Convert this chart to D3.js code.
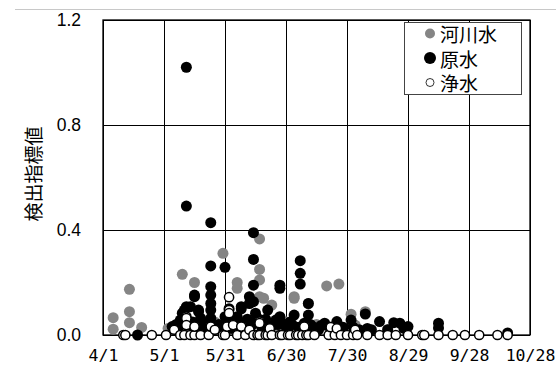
<!DOCTYPE html>
<html>
<head>
<meta charset="utf-8">
<script src="https://cdnjs.cloudflare.com/ajax/libs/d3/7.8.5/d3.min.js"></script>
<style>
  body { margin: 0; background: #fff; }
</style>
</head>
<body>
<script>
// date tick labels (every 30 days)
var tickLabels = ['4/1', '5/1', '5/31', '6/30', '7/30', '8/29', '9/28', '10/28'];
var yTicks = [0, 0.4, 0.8, 1.2];

// series names for the legend
var seriesNames = ['河川水', '原水', '浄水'];

// 河川水 (river water) : [date, value]
var river = [
  ['4/6', 0.066], ['4/6', 0.022], ['4/14', 0.174], ['4/14', 0.089], ['4/14', 0.047],
  ['4/20', 0.029], ['5/3', 0.025], ['5/10', 0.231], ['5/11', 0.03], ['5/16', 0.2],
  ['5/21', 0.04], ['5/26', 0.05], ['5/30', 0.311], ['6/3', 0.06], ['6/6', 0.2],
  ['6/6', 0.178], ['6/10', 0.05], ['6/17', 0.366], ['6/17', 0.25], ['6/17', 0.21],
  ['6/17', 0.146], ['6/19', 0.14], ['6/23', 0.114], ['6/25', 0.03], ['6/30', 0.05],
  ['7/4', 0.146], ['7/4', 0.14], ['7/11', 0.12], ['7/15', 0.04], ['7/20', 0.187],
  ['7/22', 0.03], ['7/26', 0.194], ['8/1', 0.079], ['8/3', 0.038], ['8/8', 0.089],
  ['8/19', 0.02]
];

// 原水 (raw water)
var raw = [
  ['4/18', 0.0], ['5/5', 0.032], ['5/7', 0.04], ['5/8', 0.025], ['5/9', 0.057],
  ['5/10', 0.083], ['5/11', 0.095], ['5/11', 0.076], ['5/12', 1.02], ['5/12', 0.491],
  ['5/12', 0.108], ['5/13', 0.038], ['5/14', 0.108], ['5/15', 0.05], ['5/16', 0.146],
  ['5/16', 0.152], ['5/17', 0.03], ['5/18', 0.095], ['5/18', 0.089], ['5/19', 0.064],
  ['5/20', 0.045], ['5/21', 0.03], ['5/22', 0.02], ['5/24', 0.428], ['5/24', 0.263],
  ['5/24', 0.184], ['5/24', 0.152], ['5/24', 0.12], ['5/24', 0.095], ['5/24', 0.064],
  ['5/24', 0.04], ['5/24', 0.02], ['5/26', 0.035], ['5/28', 0.04], ['5/29', 0.025],
  ['5/31', 0.258], ['5/31', 0.07], ['6/1', 0.04], ['6/2', 0.1], ['6/3', 0.025],
  ['6/4', 0.05], ['6/5', 0.035], ['6/6', 0.07], ['6/7', 0.05], ['6/8', 0.108],
  ['6/8', 0.1], ['6/9', 0.03], ['6/10', 0.04], ['6/11', 0.06], ['6/12', 0.12],
  ['6/12', 0.146], ['6/13', 0.035], ['6/14', 0.39], ['6/14', 0.288], ['6/14', 0.19],
  ['6/14', 0.127], ['6/14', 0.05], ['6/15', 0.083], ['6/16', 0.064], ['6/18', 0.03],
  ['6/19', 0.04], ['6/20', 0.06], ['6/21', 0.095], ['6/23', 0.035], ['6/25', 0.057],
  ['6/26', 0.04], ['6/27', 0.19], ['6/27', 0.178], ['6/27', 0.07], ['6/28', 0.045],
  ['6/30', 0.03], ['7/1', 0.02], ['7/2', 0.05], ['7/3', 0.04], ['7/4', 0.076],
  ['7/6', 0.03], ['7/7', 0.283], ['7/7', 0.235], ['7/7', 0.194], ['7/9', 0.045],
  ['7/11', 0.076], ['7/11', 0.12], ['7/12', 0.04], ['7/13', 0.032], ['7/14', 0.025],
  ['7/16', 0.02], ['7/17', 0.035], ['7/19', 0.038], ['7/19', 0.045], ['7/22', 0.02],
  ['7/24', 0.02], ['7/25', 0.038], ['7/25', 0.051], ['7/28', 0.03], ['8/1', 0.057],
  ['8/2', 0.03], ['8/5', 0.02], ['8/8', 0.08], ['8/9', 0.025], ['8/11', 0.02],
  ['8/15', 0.051], ['8/19', 0.02], ['8/22', 0.047], ['8/25', 0.045], ['8/27', 0.025],
  ['8/29', 0.032], ['9/13', 0.045], ['9/13', 0.027], ['10/17', 0.008]
];

// 浄水 (treated water)
var treated = [
  ['4/11', 0], ['4/12', 0], ['4/25', 0], ['5/2', 0], ['5/6', 0.02], ['5/9', 0],
  ['5/11', 0], ['5/12', 0.07], ['5/12', 0.064], ['5/12', 0.038], ['5/14', 0],
  ['5/16', 0], ['5/16', 0.032], ['5/19', 0], ['5/23', 0], ['5/24', 0.032],
  ['5/26', 0.02], ['5/30', 0], ['5/31', 0], ['6/1', 0.032], ['6/2', 0.144],
  ['6/2', 0.095], ['6/2', 0.083], ['6/4', 0.038], ['6/6', 0], ['6/8', 0.032],
  ['6/10', 0], ['6/12', 0.02], ['6/14', 0], ['6/16', 0], ['6/17', 0],
  ['6/17', 0.051], ['6/17', 0.045], ['6/20', 0], ['6/21', 0], ['6/22', 0.025],
  ['6/23', 0], ['6/27', 0], ['6/28', 0], ['7/1', 0], ['7/2', 0], ['7/5', 0],
  ['7/6', 0], ['7/8', 0], ['7/9', 0.032], ['7/10', 0], ['7/11', 0], ['7/14', 0],
  ['7/21', 0], ['7/22', 0.03], ['7/24', 0], ['7/25', 0.025], ['7/27', 0],
  ['7/30', 0], ['8/2', 0], ['8/3', 0.02], ['8/4', 0], ['8/9', 0], ['8/15', 0],
  ['8/19', 0], ['8/23', 0], ['8/29', 0], ['9/5', 0], ['9/6', 0], ['9/13', 0],
  ['9/20', 0], ['9/26', 0], ['10/3', 0], ['10/12', 0], ['10/17', 0]
];

window.onload = function() {

  var width = 556, height = 367;
  var margin = { top: 20, right: 26, bottom: 32, left: 103 };

  var parse = function(s) { return d3.timeParse('%Y/%m/%d')('2021/' + s); };

  var svg = d3.select('body').append('svg')
    .attr('width', width)
    .attr('height', height)
    .style('font-family', 'Arial, "Liberation Sans", sans-serif');

  var x = d3.scaleTime()
    .domain([parse(tickLabels[0]), parse(tickLabels[tickLabels.length - 1])])
    .range([margin.left, width - margin.right]);

  var y = d3.scaleLinear()
    .domain([0, 1.2])
    .range([height - margin.bottom, margin.top]);

  // thin grey line at the very top (chart area border)
  svg.append('line')
    .attr('x1', 15).attr('x2', width)
    .attr('y1', 9.5).attr('y2', 9.5)
    .attr('stroke', '#c8c8c8');

  // grid lines
  var xGrid = d3.axisBottom(x)
    .tickValues(tickLabels.map(parse))
    .tickSize(-(y(0) - y(1.2)))
    .tickFormat('');
  svg.append('g')
    .attr('transform', 'translate(0,' + y(0) + ')')
    .call(xGrid)
    .call(function(g) { g.select('.domain').remove(); })
    .selectAll('line').attr('stroke', '#000');

  var yGrid = d3.axisLeft(y)
    .tickValues(yTicks)
    .tickSize(-(x.range()[1] - x.range()[0]))
    .tickFormat('');
  svg.append('g')
    .attr('transform', 'translate(' + margin.left + ',0)')
    .call(yGrid)
    .call(function(g) { g.select('.domain').remove(); })
    .selectAll('line').attr('stroke', '#000');

  // plot border
  svg.append('rect')
    .attr('x', x.range()[0]).attr('y', y(1.2))
    .attr('width', x.range()[1] - x.range()[0])
    .attr('height', y(0) - y(1.2))
    .attr('fill', 'none')
    .attr('stroke', '#000')
    .attr('stroke-width', 1.3);

  // tick labels
  var xAxis = d3.axisBottom(x)
    .tickValues(tickLabels.map(parse))
    .tickSize(0)
    .tickPadding(14)
    .tickFormat(d3.timeFormat('%-m/%-d'));
  svg.append('g')
    .attr('transform', 'translate(0,' + y(0) + ')')
    .call(xAxis)
    .call(function(g) { g.select('.domain').remove(); })
    .selectAll('text')
    .attr('fill', '#000')
    .style('font-family', '"DejaVu Sans Mono", monospace')
    .style('font-size', '16.5px');

  var yAxis = d3.axisLeft(y)
    .tickValues(yTicks)
    .tickSize(0)
    .tickPadding(22)
    .tickFormat(d3.format('.1f'));
  svg.append('g')
    .attr('transform', 'translate(' + margin.left + ',0)')
    .call(yAxis)
    .call(function(g) { g.select('.domain').remove(); })
    .selectAll('text')
    .attr('fill', '#000')
    .style('font-size', '17.5px');

  // y axis title
  svg.append('text')
    .attr('transform', 'translate(32,174) rotate(-90)')
    .attr('text-anchor', 'middle')
    .attr('dominant-baseline', 'central')
    .style('font-family', '"Noto Sans CJK JP", sans-serif')
    .style('font-size', '19px')
    .text('検出指標値');

  // points: river (grey), raw (black), treated (white) on top
  var plot = svg.append('g');

  plot.selectAll('.river').data(river).enter()
    .append('circle')
    .attr('class', 'river')
    .attr('cx', function(d) { return x(parse(d[0])); })
    .attr('cy', function(d) { return y(d[1]); })
    .attr('r', 5.5)
    .attr('fill', '#858585');

  plot.selectAll('.raw').data(raw).enter()
    .append('circle')
    .attr('class', 'raw')
    .attr('cx', function(d) { return x(parse(d[0])); })
    .attr('cy', function(d) { return y(d[1]); })
    .attr('r', 5.5)
    .attr('fill', '#000');

  plot.selectAll('.treated').data(treated).enter()
    .append('circle')
    .attr('class', 'treated')
    .attr('cx', function(d) { return x(parse(d[0])); })
    .attr('cy', function(d) { return y(d[1]); })
    .attr('r', 4.6)
    .attr('fill', '#fff')
    .attr('stroke', '#000')
    .attr('stroke-width', 1.5);

  // legend
  var legend = svg.append('g');
  legend.append('rect')
    .attr('x', 404.5).attr('y', 22.5)
    .attr('width', 117).attr('height', 72)
    .attr('fill', '#fff')
    .attr('stroke', '#444');

  var legendStyle = [
    { fill: '#858585', stroke: 'none', r: 5, sw: 0 },
    { fill: '#000', stroke: 'none', r: 6, sw: 0 },
    { fill: '#fff', stroke: '#000', r: 4, sw: 0.8 }
  ];
  var rows = legend.selectAll('.row').data(seriesNames).enter()
    .append('g')
    .attr('class', 'row')
    .attr('transform', function(d, i) { return 'translate(430,' + (33.5 + i * 24.5) + ')'; });

  rows.append('circle')
    .attr('r', function(d, i) { return legendStyle[i].r; })
    .attr('fill', function(d, i) { return legendStyle[i].fill; })
    .attr('stroke', function(d, i) { return legendStyle[i].stroke; })
    .attr('stroke-width', function(d, i) { return legendStyle[i].sw; });

  rows.append('text')
    .attr('x', 10)
    .attr('dominant-baseline', 'central')
    .style('font-family', '"Noto Sans CJK JP", sans-serif')
    .style('font-size', '19px')
    .text(function(d) { return d; });

};
</script>
</body>
</html>
